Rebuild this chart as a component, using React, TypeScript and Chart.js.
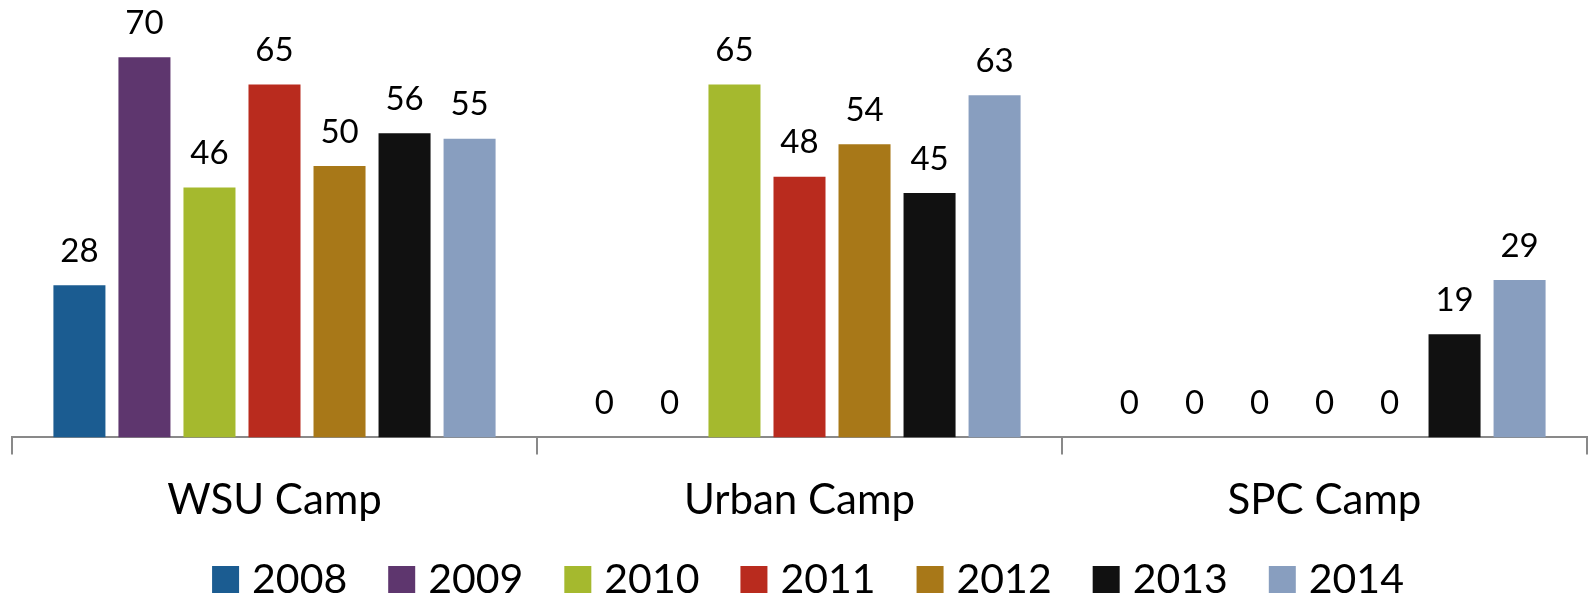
import React, { useEffect, useRef } from "react";
import { Chart, registerables } from "chart.js";

Chart.register(...registerables);

const categories = ["WSU Camp", "Urban Camp", "SPC Camp"];
const years = ["2008", "2009", "2010", "2011", "2012", "2013", "2014"];
const v2008 = [28, 0, 0];
const v2009 = [70, 0, 0];
const v2010 = [46, 65, 0];
const v2011 = [65, 48, 0];
const v2012 = [50, 54, 0];
const v2013 = [56, 45, 19];
const v2014 = [55, 63, 29];
const seriesValues = [v2008, v2009, v2010, v2011, v2012, v2013, v2014];
const colors = ["#1B5C91", "#5E366E", "#A5B92E", "#B92B1E", "#A87818", "#111111", "#889EBF"];

const FONT = "Lato, 'Open Sans', sans-serif";

const valueLabels = {
  id: "valueLabels",
  afterDatasetsDraw(chart: any) {
    const ctx = chart.ctx;
    ctx.save();
    ctx.font = `33px ${FONT}`;
    ctx.fillStyle = "#000";
    ctx.textAlign = "center";
    ctx.textBaseline = "middle";
    chart.data.datasets.forEach((ds: any, i: number) => {
      const meta = chart.getDatasetMeta(i);
      meta.data.forEach((el: any, j: number) => {
        ctx.fillText(String(ds.data[j]), el.x, el.y - 34);
      });
    });
    ctx.restore();
  },
};

// Legend drawn below the axis: square, 13px gap, text, 41px between items
const bottomLegend = {
  id: "bottomLegend",
  afterDraw(chart: any) {
    const ctx = chart.ctx;
    ctx.save();
    ctx.font = `41px ${FONT}`;
    const box = 27;
    const gap = 13;
    const itemGap = 41;
    const items = chart.data.datasets.map((ds: any) => ({
      text: ds.label,
      color: ds.backgroundColor,
      w: ctx.measureText(ds.label).width,
    }));
    const total =
      items.reduce((s: number, it: any) => s + box + gap + it.w, 0) + itemGap * (items.length - 1);
    const center = 808;
    let x = center - total / 2;
    const baseline = 593;
    items.forEach((it: any) => {
      ctx.fillStyle = it.color;
      ctx.fillRect(x, baseline - box, box, box);
      ctx.fillStyle = "#000";
      ctx.textAlign = "left";
      ctx.textBaseline = "alphabetic";
      ctx.fillText(it.text, x + box + gap, baseline);
      x += box + gap + it.w + itemGap;
    });
    ctx.restore();
  },
};

export default function App() {
  const ref = useRef<HTMLCanvasElement>(null);
  useEffect(() => {
    if (!ref.current) return;
    const chart = new Chart(ref.current, {
      type: "bar",
      data: {
        labels: categories,
        datasets: years.map((y, i) => ({
          label: y,
          data: seriesValues[i],
          backgroundColor: colors[i],
          categoryPercentage: 0.867,
          barPercentage: 0.8,
        })),
      },
      options: {
        animation: false,
        responsive: true,
        maintainAspectRatio: false,
        layout: { padding: { left: 12, right: 2, top: 3, bottom: 52 } },
        plugins: {
          tooltip: { enabled: false },
          legend: { display: false },
        },
        scales: {
          x: {
            grid: {
              display: true,
              drawOnChartArea: false,
              drawTicks: true,
              tickLength: 17,
              color: "#898989",
              lineWidth: 2,
              offset: true,
            },
            border: { display: true, color: "#898989", width: 2 },
            ticks: {
              font: { family: FONT, size: 42, lineHeight: 0.8 },
              color: "#000",
              padding: 29,
            },
          },
          y: {
            display: false,
            min: 0,
            max: 80,
          },
        },
      },
      plugins: [valueLabels, bottomLegend],
    });
    return () => chart.destroy();
  }, []);
  return (
    <div style={{ position: "absolute", left: 0, top: 0, width: 1589, height: 598 }}>
      <canvas ref={ref} />
    </div>
  );
}
